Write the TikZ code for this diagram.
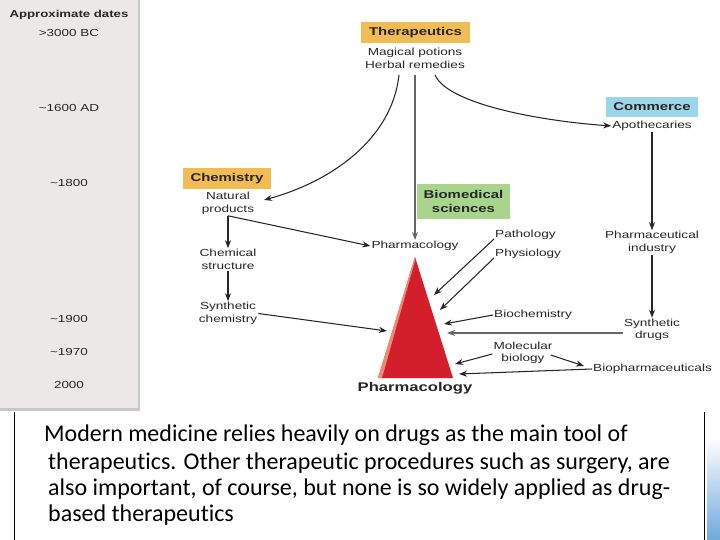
\documentclass[tikz,border=0pt]{standalone}
\usepackage{fontspec}
\usetikzlibrary{arrows.meta}
\newfontfamily\diagfont[FakeStretch=1.32]{Liberation Sans}
\newfontfamily\notefont[Ligatures=NoCommon]{Carlito}
\definecolor{inkgray}{HTML}{262626}
\definecolor{panelgray}{HTML}{EDE8E8}
\definecolor{thercol}{HTML}{F2BC55}
\definecolor{biocol}{HTML}{A9D48C}
\definecolor{commcol}{HTML}{9DD5E8}
\definecolor{trired}{HTML}{D21F2B}
\definecolor{trilight}{HTML}{EE8A72}
\definecolor{stripblue}{HTML}{6FA8DC}
\begin{document}
\begin{tikzpicture}[x=1pt,y=-1pt,
  lbl/.style={font=\diagfont\fontsize{10.3}{12.6}\selectfont,align=center,inner sep=1pt,text=inkgray},
  head/.style={font=\diagfont\bfseries\fontsize{11.3}{13.6}\selectfont,align=center,inner sep=0pt,text=black!85},
  datel/.style={font=\diagfont\fontsize{10.2}{12}\selectfont,inner sep=0pt,text=inkgray},
  arr/.style={draw=inkgray,line width=1.05pt,-{Stealth[length=8pt,width=6pt]}},
  thick arr/.style={arr,draw=black!60,line width=1.7pt},
  note/.style={font=\notefont\fontsize{24}{28}\selectfont,anchor=base west,inner sep=0pt}]
\useasboundingbox (0,0) rectangle (720,540);
\fill[panelgray] (0,0) rectangle (138,408);
\draw[black!22,line width=2.5pt] (139,0) -- (139,409.5) -- (0,409.5);
\node[datel,font=\diagfont\bfseries\fontsize{10}{12}\selectfont] (dh) at (69,15) {Approximate dates};
\node[datel] (d1) at (69,33) {>3000 BC};
\node[datel] (d2) at (69,108) {\char`~1600 AD};
\node[datel] (d3) at (69,183) {\char`~1800};
\node[datel] (d4) at (69,319) {\char`~1900};
\node[datel] (d5) at (69,352) {\char`~1970};
\node[datel] (d6) at (69,385) {2000};
\node[head,fill=thercol,minimum width=109pt,minimum height=21pt] (ther) at (415.5,32.5) {Therapeutics};
\node[lbl] (magic) at (415,58.5) {Magical potions\\Herbal remedies};
\node[head,fill=thercol,minimum width=88pt,minimum height=21pt] (chem) at (227,178.5) {Chemistry};
\node[lbl] (nat) at (228,203.5) {Natural\\products};
\node[lbl] (struct) at (228,259.5) {Chemical\\structure};
\node[lbl] (synchem) at (228,313.5) {Synthetic\\chemistry};
\node[head,fill=biocol,minimum width=93pt,minimum height=35pt] (bio) at (463.5,201.5) {Biomedical\\sciences};
\node[lbl] (pharm) at (415,246) {Pharmacology};
\node[lbl,anchor=west] (patho) at (494,235) {Pathology};
\node[lbl,anchor=west] (physio) at (494,254) {Physiology};
\node[lbl,anchor=west] (biochem) at (493,315) {Biochemistry};
\node[lbl] (molbio) at (523,353) {Molecular\\biology};
\node[head,fill=commcol,minimum width=92pt,minimum height=20pt] (comm) at (652,107) {Commerce};
\node[lbl] (apoth) at (652,126) {Apothecaries};
\node[lbl] (industry) at (652,242.5) {Pharmaceutical\\industry};
\node[lbl] (syndrugs) at (652,330) {Synthetic\\drugs};
\node[lbl,anchor=west] (biopharm) at (592,369) {Biopharmaceuticals};
\coordinate (apex) at (415,257);
\coordinate (bl) at (378,378);
\coordinate (br) at (453,378);
\fill[trired] (apex) -- (bl) -- (br) -- cycle;
\fill[trilight] (apex) -- (bl) -- (382,378) -- (415,261) -- cycle;
\node[head,font=\diagfont\bfseries\fontsize{12.6}{15}\selectfont] (pbig) at (415,388) {Pharmacology};
\coordinate (t1) at (434,295);
\coordinate (t2) at (440,310);
\coordinate (t3) at (444,324);
\coordinate (t4) at (447,333);
\coordinate (t5) at (455,364);
\coordinate (t6) at (459,374);
\coordinate (t7) at (387,331);
\draw[arr] ([xshift=-16pt,yshift=-5pt]magic.south) .. controls (392,140) and (330,182) .. (264,200);
\draw[thick arr] ([yshift=-5pt]magic.south) -- (pharm.north);
\draw[arr] ([xshift=20pt,yshift=-5pt]magic.south) .. controls (446,102) and (530,120) .. (apoth.west);
\draw[arr] (nat.south) -- (struct.north);
\draw[arr] (nat.south) -- (pharm.west);
\draw[arr] (struct.south) -- (synchem.north);
\draw[arr] (synchem.east) -- (t7);
\draw[arr] ([yshift=-4pt]patho.west) -- (t1);
\draw[arr] ([yshift=-4pt]physio.west) -- (t2);
\draw[arr] (biochem.west) -- (t3);
\draw[thick arr] ([yshift=-3pt]syndrugs.west) -- (t4);
\draw[arr] ([yshift=-1pt]molbio.west) -- (t5);
\draw[arr] (biopharm.west) -- (t6);
\draw[arr] ([xshift=-3pt,yshift=-2pt]molbio.east) -- ([xshift=-8pt,yshift=3pt]biopharm.west);
\draw[arr] (apoth.south) -- (industry.north);
\draw[arr] (industry.south) -- (syndrugs.north);
\draw[black,line width=0.8pt] (14,412) -- (14,540);
\draw[black,line width=0.8pt] (704,412) -- (704,540);
\shade[top color=white,bottom color=stripblue] (707,438) rectangle (720,540);
\node[note] (l1) at (44,441) {Modern medicine relies heavily on drugs as the main tool of};
\node[note] (l2) at (48,469.5) {therapeutics. Other therapeutic procedures such as surgery, are};
\node[note] (l3) at (48,495.5) {also important, of course, but none is so widely applied as drug-};
\node[note] (l4) at (48,521) {based therapeutics};
\end{tikzpicture}
\end{document}
